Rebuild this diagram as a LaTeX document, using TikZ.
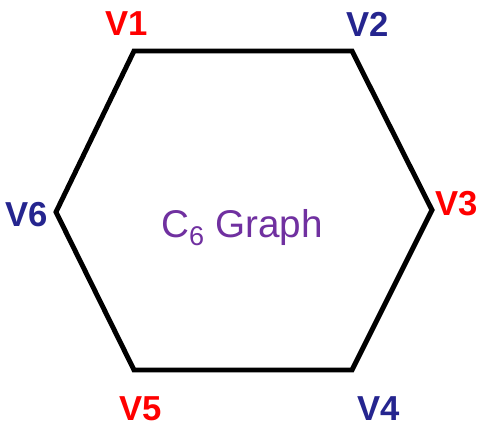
\documentclass[tikz,border=0pt]{standalone}
\usepackage{fontspec}
\setmainfont{Liberation Sans}
\usetikzlibrary{positioning}
\definecolor{vred}{HTML}{FF0000}
\definecolor{vblue}{HTML}{25258F}
\definecolor{gpurple}{HTML}{7030A0}
\begin{document}
\begin{tikzpicture}[
  x=0.75pt,y=-0.75pt,
  edge/.style={line width=3.7pt,line join=miter,draw=black},
  vlabel/.style={inner sep=0pt,font=\fontsize{26}{30}\selectfont\bfseries},
  title/.style={inner sep=0pt,anchor=base,text=gpurple,font=\fontsize{29}{34}\selectfont}
]
\useasboundingbox[fill=white] (0,0) rectangle (481,427);
% cycle vertices
\coordinate (v1) at (134,51);
\coordinate (v2) at (352,51);
\coordinate (v3) at (432,210);
\coordinate (v4) at (352,370);
\coordinate (v5) at (134,370);
\coordinate (v6) at (56,212);
\draw[edge] (v1) -- (v2) -- (v3) -- (v4) -- (v5) -- (v6) -- cycle;
% vertex labels
\node[vlabel,text=vred]  (l1) at (127,24)  {V1};
\node[vlabel,text=vblue] (l2) at (368,24)  {V2};
\node[vlabel,text=vred]  (l3) at (457,204) {V3};
\node[vlabel,text=vblue] (l4) at (379,409) {V4};
\node[vlabel,text=vred]  (l5) at (141,409) {V5};
\node[vlabel,text=vblue] (l6) at (27,215)  {V6};
\node[title] (name) at (242,238) {C\textsubscript{6} Graph};
\end{tikzpicture}
\end{document}
